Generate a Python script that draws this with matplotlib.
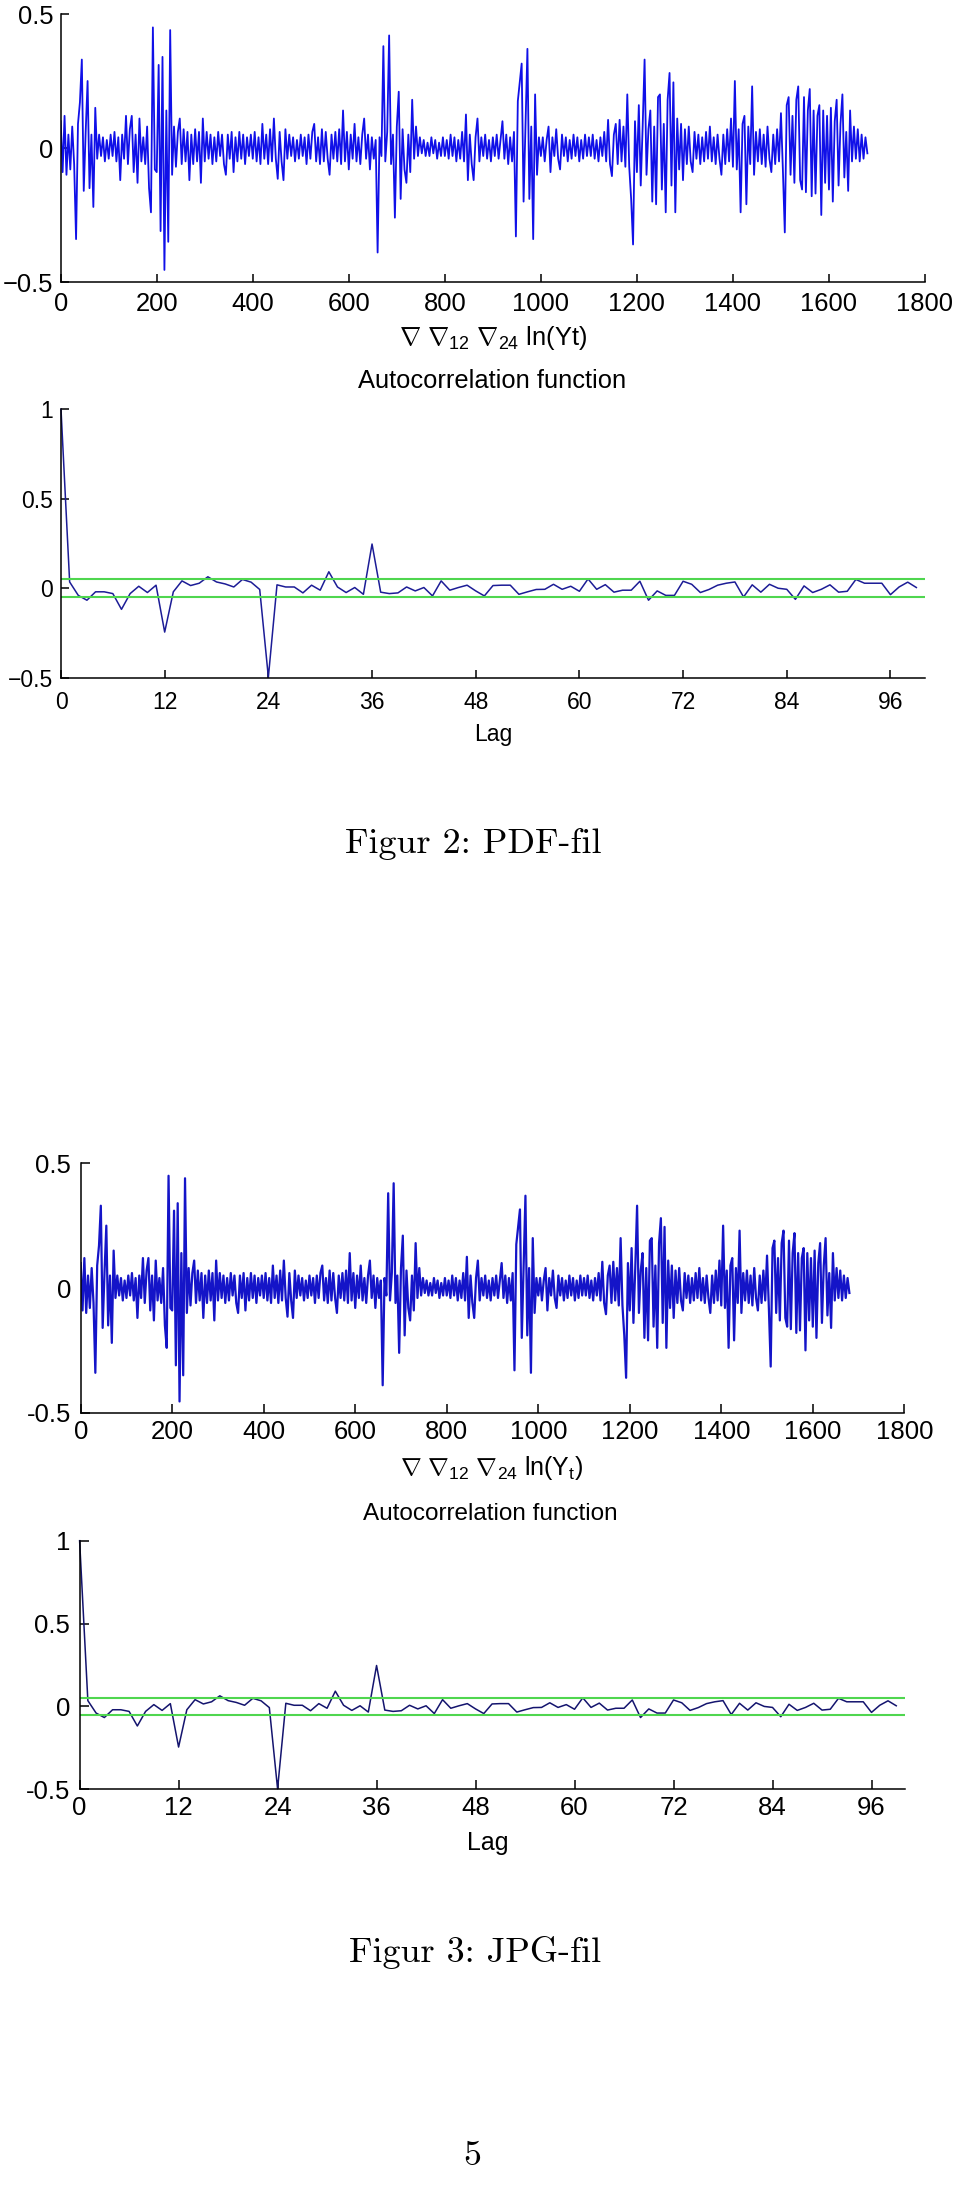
import matplotlib
matplotlib.use("Agg")
import matplotlib.pyplot as plt
import numpy as np

plt.rcParams['mathtext.fontset'] = 'custom'
plt.rcParams['mathtext.rm'] = 'Liberation Sans'
plt.rcParams['mathtext.it'] = 'Liberation Sans:italic'
plt.rcParams['font.family'] = ['Liberation Sans', 'DejaVu Sans']

step = 4
series = [
    0.10, -0.09, 0.12, -0.10, 0.05, -0.08, 0.08, -0.06, -0.34, 0.09, 0.17, 0.33, -0.16,
    0.06, 0.25, -0.15, 0.05, -0.22, 0.15, -0.04, 0.05, -0.03, 0.04, -0.05, 0.03,
    -0.04, 0.05, -0.03, 0.06, -0.05, 0.04, -0.12, 0.05, -0.04, 0.12, -0.06, 0.07, 0.12,
    -0.09, 0.05, -0.13, 0.11, -0.05, 0.04, -0.06, 0.08, -0.15, -0.24, 0.45, -0.08,
    -0.09, 0.31, -0.31, 0.34, -0.455, 0.14, -0.35, 0.44, -0.10, 0.08, -0.07, 0.06, 0.11,
    -0.06, 0.07, -0.05, 0.06, -0.12, 0.05, -0.06, 0.07, -0.05, 0.06, -0.13, 0.11,
    -0.05, 0.06, -0.04, 0.05, -0.06, 0.04, -0.05, 0.06, -0.03, 0.05, -0.06, -0.10, 0.05,
    -0.04, 0.06, -0.09, 0.04, -0.05, 0.06, -0.04, 0.05, -0.06, 0.04, -0.03, 0.05,
    -0.04, 0.06, -0.05, 0.04, -0.06, 0.09, -0.04, 0.05, -0.06, 0.07, -0.05, 0.11, -0.04,
    -0.115, 0.06, -0.05, -0.12, 0.07, -0.04, 0.05, -0.03, 0.04, -0.05, 0.03, -0.04,
    0.05, -0.03, 0.04, -0.06, 0.05, -0.04, 0.06, 0.09, -0.05, 0.04, -0.06, 0.07, -0.05,
    0.06, -0.04, -0.10, 0.05, -0.04, 0.06, -0.05, 0.07, -0.06, 0.14, -0.05, 0.06,
    -0.08, 0.05, -0.04, 0.09, -0.05, 0.04, -0.06, 0.05, 0.11, -0.04, 0.05, -0.08, 0.04,
    -0.04, 0.03, -0.39, 0.04, -0.03, 0.38, -0.05, 0.06, 0.42, -0.06, 0.05, -0.26,
    0.08, 0.21, -0.19, 0.07, -0.08, -0.13, 0.05, -0.09, 0.18, -0.04, 0.08, -0.03, 0.04,
    -0.02, 0.03, -0.03, 0.02, -0.03, 0.04, -0.02, 0.03, -0.04, 0.02, -0.03, 0.04,
    -0.03, 0.03, -0.04, 0.05, -0.03, 0.04, -0.05, 0.03, -0.04, 0.06, -0.05, 0.125, -0.12,
    0.05, -0.06, -0.12, 0.04, 0.11, -0.05, 0.04, -0.03, 0.05, -0.04, 0.03, -0.05,
    0.04, -0.03, 0.05, -0.04, 0.03, 0.10, -0.04, 0.05, -0.06, 0.04, -0.05, 0.06, -0.33,
    0.175, 0.245, 0.315, -0.20, 0.08, 0.37, -0.19, 0.08, -0.34, 0.20, -0.10, 0.04,
    -0.03, 0.04, -0.05, 0.03, 0.08, -0.09, 0.04, -0.03, 0.07, -0.04, -0.08, 0.05, -0.03,
    0.04, -0.05, 0.03, -0.04, 0.05, -0.03, 0.04, -0.05, 0.03, -0.04, 0.05, -0.03,
    0.04, -0.03, 0.05, -0.04, 0.03, -0.05, 0.04, -0.03, 0.06, -0.05, 0.105, -0.06, -0.105,
    0.05, 0.09, -0.06, 0.105, -0.05, 0.08, -0.07, 0.20, -0.07, -0.19, -0.36, 0.10,
    -0.09, 0.16, -0.14, 0.08, 0.33, -0.10, 0.07, 0.14, -0.20, 0.08, -0.21, 0.19, 0.20,
    -0.155, 0.09, -0.24, 0.18, 0.28, -0.14, 0.245, -0.24, 0.11, -0.08, 0.09, -0.12,
    0.07, -0.06, 0.08, -0.05, -0.09, 0.06, -0.04, 0.05, -0.06, 0.04, -0.05, 0.06, -0.04,
    0.08, -0.05, 0.04, -0.06, 0.05, -0.04, -0.10, 0.05, -0.06, 0.07, -0.05, 0.11,
    -0.07, 0.25, -0.08, 0.07, -0.24, 0.09, 0.12, -0.21, 0.08, -0.06, 0.23, -0.10, 0.06,
    -0.05, 0.07, -0.06, 0.05, -0.07, 0.08, -0.04, -0.09, 0.05, -0.06, 0.07, -0.05,
    0.13, -0.08, -0.315, 0.16, 0.19, -0.10, 0.12, -0.13, 0.18, 0.23, -0.12, -0.155, 0.19,
    -0.165, 0.14, 0.22, -0.18, 0.14, -0.17, 0.12, 0.16, -0.25, 0.14, -0.13, 0.12,
    -0.155, 0.15, -0.20, 0.10, 0.18, -0.14, 0.09, 0.20, -0.11, 0.06, -0.16, 0.14, -0.05,
    0.08, -0.04, 0.07, -0.05, 0.05, -0.04, 0.04, -0.02,
]

acf = [
    1.0, 0.035, -0.04, -0.067, -0.02, -0.02, -0.03, -0.118, -0.03, 0.011,
    -0.024, 0.017, -0.245, -0.02, 0.041, 0.015, 0.028, 0.064, 0.035, 0.024,
    0.007, 0.049, 0.034, -0.007, -0.497, 0.019, 0.007, 0.007, -0.026, 0.017,
    -0.011, 0.092, 0.007, -0.024, 0.004, -0.034, 0.247, -0.022, -0.03, -0.026,
    0.007, -0.015, 0.004, -0.043, 0.041, -0.011, 0.004, 0.017, -0.015, -0.043,
    0.015, 0.017, 0.017, -0.034, -0.02, -0.007, -0.006, 0.022, -0.006, 0.011,
    -0.017, 0.052, -0.006, 0.02, -0.022, -0.011, -0.011, 0.039, -0.067, -0.015,
    -0.04, -0.04, 0.039, 0.022, -0.024, -0.007, 0.017, 0.028, 0.035, -0.049,
    0.019, -0.022, 0.022, 0.0, -0.006, -0.062, 0.013, -0.024, -0.006, 0.019,
    -0.022, -0.017, 0.049, 0.028, 0.028, 0.028, -0.036, 0.007, 0.034, 0.004,
]
conf = 0.049

ts_xticks = [0, 200, 400, 600, 800, 1000, 1200, 1400, 1600, 1800]
ts_yticks = [-0.5, 0, 0.5]
acf_xticks = [0, 12, 24, 36, 48, 60, 72, 84, 96]
acf_yticks = [-0.5, 0, 0.5, 1]

W, H = 960, 2196
fig = plt.figure(figsize=(W / 100, H / 100), dpi=100)
t = np.arange(len(series)) * step
lags = np.arange(len(acf))


def add_ax(left, top, right, bottom):
    return fig.add_axes([left / W, 1 - bottom / H, (right - left) / W, (bottom - top) / H])


def ftext(x, y, s, **kw):
    fig.text(x / W, 1 - y / H, s, ha='center', va='baseline', **kw)


def style(ax, fs, tlen, xpad, ypad, family):
    ax.spines['top'].set_visible(False)
    ax.spines['right'].set_visible(False)
    for s in ('left', 'bottom'):
        ax.spines[s].set_linewidth(1.1)
    ax.tick_params(direction='in', length=tlen, width=1.1, labelsize=fs)
    ax.tick_params(axis='x', pad=xpad)
    ax.tick_params(axis='y', pad=ypad)
    for lab in ax.get_xticklabels() + ax.get_yticklabels():
        lab.set_family(family)
    ax.set_facecolor('none')


def fmt(v, minus):
    return ('%g' % v).replace('-', minus)


def draw(top_box, acf_box, line_col, lw, acf_col, minus, fam, fs_ts, fs_acf, pads):
    ax = add_ax(*top_box)
    ax.plot(t, series, color=line_col, lw=lw)
    ax.set_xlim(0, 1800)
    ax.set_ylim(-0.5, 0.5)
    ax.set_xticks(ts_xticks)
    ax.set_xticklabels([fmt(v, minus) for v in ts_xticks])
    ax.set_yticks(ts_yticks)
    ax.set_yticklabels([fmt(v, minus) for v in ts_yticks])
    style(ax, fs_ts, pads[0], pads[1], pads[2], fam)

    ax2 = add_ax(*acf_box)
    ax2.plot(lags, acf, color=acf_col, lw=1.1, clip_on=False)
    ax2.axhline(conf, color='#4fd64f', lw=1.5)
    ax2.axhline(-conf, color='#4fd64f', lw=1.5)
    ax2.set_xlim(0, 100)
    ax2.set_ylim(-0.5, 1)
    ax2.set_xticks(acf_xticks)
    ax2.set_xticklabels([str(v) for v in acf_xticks])
    ax2.set_yticks(acf_yticks)
    ax2.set_yticklabels([fmt(v, minus) for v in acf_yticks])
    style(ax2, fs_acf, pads[0], pads[3], pads[2], fam)


# Figur 2: PDF-fil
draw((60.7, 14, 925, 282), (61, 409.3, 925, 677.7), '#1010e8', 1.3, '#1c1c96',
     '\u2212', ['Liberation Sans'], 18.4, 16.5, (5.5, 7.5, 5.5, 9.5))
ftext(493, 345, r'$\nabla\ \nabla_{12}\ \nabla_{24}\ \mathrm{ln(Yt)}$', fontsize=18.4)
ftext(492, 388, 'Autocorrelation function', fontsize=18.4)
ftext(493, 741, 'Lag', fontsize=16.5)
ftext(473, 853, 'Figur 2: PDF-fil', fontsize=26, family='cmr10')

# Figur 3: JPG-fil
narrow = ['Liberation Sans Narrow', 'Liberation Sans']
draw((80.7, 1163.3, 904.3, 1412.7), (79.6, 1540.7, 904.5, 1789.3), '#1414c8', 1.6, '#14146e',
     '-', narrow, 18.5, 18.5, (6.5, 5, 7, 5))
ftext(492, 1475, r'$\nabla\ \nabla_{12}\ \nabla_{24}\ \mathrm{ln(Y}_{\mathrm{t}}\mathrm{)}$',
      fontsize=18)
ftext(490, 1520, 'Autocorrelation function', fontsize=17.5, family=narrow)
ftext(488, 1850, 'Lag', fontsize=18, family=narrow)
ftext(475, 1962, 'Figur 3: JPG-fil', fontsize=26, family='cmr10')

ftext(472, 2165, '5', fontsize=26, family='cmr10')

fig.savefig('out.png', dpi=100)
